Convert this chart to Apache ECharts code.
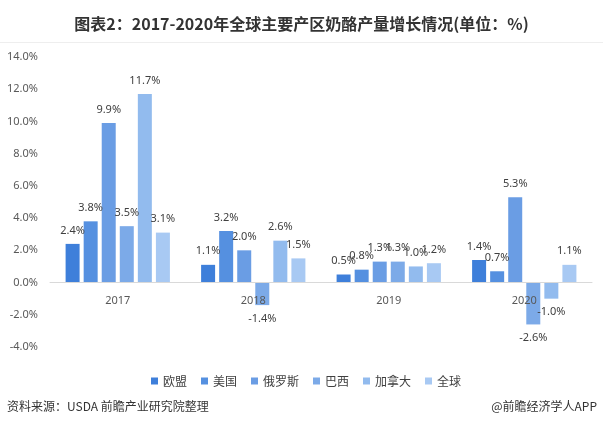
<!DOCTYPE html>
<html><head><meta charset="utf-8">
<script src="https://cdn.jsdelivr.net/npm/echarts@6/dist/echarts.min.js"></script>
<style>html,body{margin:0;padding:0;background:#fff;}#c{width:603px;height:426px;}</style>
</head><body><div id="c"></div>
<script>
var categories = ['2017', '2018', '2019', '2020'];
var seriesNames = ['欧盟', '美国', '俄罗斯', '巴西', '加拿大', '全球'];
var euValues = [2.4, 1.1, 0.5, 1.4];
var usValues = [3.8, 3.2, 0.8, 0.7];
var ruValues = [9.9, 2.0, 1.3, 5.3];
var brValues = [3.5, -1.4, 1.3, -2.6];
var caValues = [11.7, 2.6, 1.0, -1.0];
var worldValues = [3.1, 1.5, 1.2, 1.1];
var yTicks = [-4, -2, 0, 2, 4, 6, 8, 10, 12, 14];

var allValues = [euValues, usValues, ruValues, brValues, caValues, worldValues];
var colors = ['#3e7fda', '#5590e0', '#6a9de4', '#7caae8', '#92bbee', '#a8c9f3'];
var font = '"Noto Sans", "Noto Sans CJK SC", sans-serif';

var gridTop = 57, gridBottom = 79, H = 426;
var yMin = yTicks[0], yMax = yTicks[yTicks.length - 1];
var gridHeight = H - gridTop - gridBottom;
var zeroOffset = -gridHeight * (0 - yMin) / (yMax - yMin);

var chart = echarts.init(document.getElementById('c'));
var series = seriesNames.map(function (name, i) {
  return {
    name: name,
    type: 'bar',
    barWidth: 14,
    barGap: '29%',
    itemStyle: { color: colors[i] },
    data: allValues[i].map(function (v) {
      return { value: v, label: { position: v < 0 ? 'bottom' : 'top' } };
    }),
    label: {
      show: true,
      distance: 8,
      color: '#404040',
      fontSize: 11,
      fontFamily: font,
      formatter: function (p) { return p.value.toFixed(1) + '%'; }
    }
  };
});

chart.setOption({
  backgroundColor: '#fff',
  animation: false,
  color: colors,
  title: {
    text: '图表2：2017-2020年全球主要产区奶酪产量增长情况(单位：%)',
    left: 'center', top: 11,
    textStyle: { fontSize: 16, fontWeight: 'bold', color: '#333', fontFamily: '"Noto Sans CJK SC", sans-serif' }
  },
  graphic: [
    { type: 'rect', shape: { x: 0, y: 42, width: 603, height: 1 }, style: { fill: '#eeeeee' } },
    { type: 'text', left: 7, top: 400, style: { text: '资料来源：USDA 前瞻产业研究院整理', fill: '#333', font: '12px "Noto Sans CJK SC", sans-serif' } },
    { type: 'text', right: 6, top: 400, style: { text: '@前瞻经济学人APP', fill: '#333', font: '12px "Noto Sans CJK SC", sans-serif' } }
  ],
  legend: {
    data: seriesNames,
    left: 146, top: 370,
    itemWidth: 7, itemHeight: 7, itemGap: 14,
    icon: 'rect',
    textStyle: { fontSize: 12, color: '#404040', fontFamily: '"Noto Sans CJK SC", sans-serif' }
  },
  grid: { left: 50, right: 11, top: gridTop, bottom: gridBottom, containLabel: false },
  xAxis: {
    type: 'category',
    data: categories,
    offset: zeroOffset,
    z: 5,
    axisLine: { onZero: false, lineStyle: { color: '#d9d9d9' } },
    axisTick: { show: false },
    axisLabel: { color: '#595959', fontSize: 11, fontFamily: font, margin: 13 }
  },
  yAxis: {
    type: 'value',
    min: yMin, max: yMax, interval: 2,
    splitLine: { show: false },
    axisLine: { show: false },
    axisTick: { show: false },
    axisLabel: {
      color: '#595959', fontSize: 11, fontFamily: font, margin: 12,
      formatter: function (v) { return v.toFixed(1) + '%'; }
    }
  },
  series: series
});
</script></body></html>
